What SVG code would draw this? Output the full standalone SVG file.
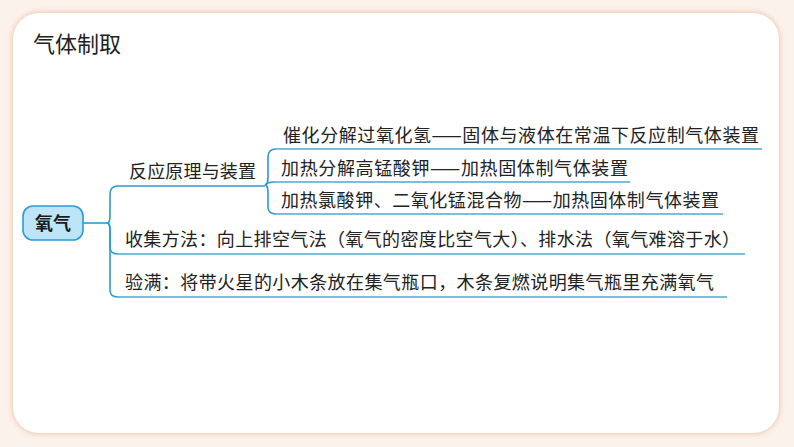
<svg xmlns="http://www.w3.org/2000/svg" width="794" height="447" viewBox="0 0 794 447">
  <style>
    text { font-family: "Noto Sans CJK SC", "Noto Sans", sans-serif; fill: #222; }
    .t { font-size: 18px; }
    .title { font-size: 22px; }
    .root { font-size: 18px; font-weight: bold; fill: #1a1a1a; }
    .conn { fill: none; stroke: #2a9cd3; stroke-width: 1.6; }
    .ul { fill: none; stroke: #4aaad0; stroke-width: 1.6; }
  </style>
  <defs>
    <filter id="sh" x="-5%" y="-5%" width="110%" height="110%">
      <feGaussianBlur in="SourceAlpha" stdDeviation="4"/>
      <feOffset dx="0" dy="0"/>
      <feComponentTransfer><feFuncA type="linear" slope="0.12"/></feComponentTransfer>
      <feFlood flood-color="#e8b89a"/>
      <feComposite operator="in" in2="SourceAlpha"/>
      <feGaussianBlur stdDeviation="3"/>
      <feMerge><feMergeNode/><feMergeNode in="SourceGraphic"/></feMerge>
    </filter>
  </defs>

  <rect x="0" y="0" width="794" height="447" fill="#fcf2ec"/>
  <rect id="card" x="13" y="13" width="766" height="420" rx="26" ry="26" fill="#ffffff" filter="url(#sh)"/>

  <text class="title" x="33" y="52">气体制取</text>

  <g id="connectors">
    <path class="conn" d="M83 223 H107"/>
    <path class="conn" d="M107 223 C110 223 110 219 110 212 V194 C110 189 112 186 118 186 H265"/>
    <path class="conn" d="M107 223 C110 223 110 227 110 234 V247 C110 251 112 254 118 254"/>
    <path class="conn" d="M107 223 C110 223 110 227 110 234 V290 C110 294 112 297 118 297"/>
    <path class="ul" d="M118 254 H745"/>
    <path class="ul" d="M118 297 H727"/>
    <path class="conn" d="M265 185 C268 185 268 180 268 175 V157 C268 152 270 149 276 149"/>
    <path class="conn" d="M265 185 Q268 182 274 182"/>
    <path class="conn" d="M265 185 C268 185 268 190 268 195 V207 C268 211 270 214 276 214"/>
    <path class="ul" d="M276 149 H762"/>
    <path class="ul" d="M274 182 H630"/>
    <path class="ul" d="M276 214 H723"/>
  </g>

  <g id="node-root">
    <rect x="23" y="206" width="60" height="34" rx="10" ry="10" fill="#bde5f7" stroke="#2a9cd3" stroke-width="1.6"/>
    <text class="root" x="53" y="230" text-anchor="middle">氧气</text>
  </g>

  <g id="node-principle">
    <text class="t" x="129" y="178" textLength="127" lengthAdjust="spacing">反应原理与装置</text>
  </g>
  <g id="node-h2o2">
    <text class="t" x="283" y="142" textLength="476" lengthAdjust="spacing">催化分解过氧化氢——固体与液体在常温下反应制气体装置</text>
  </g>
  <g id="node-kmno4">
    <text class="t" x="281" y="175" textLength="347" lengthAdjust="spacing">加热分解高锰酸钾——加热固体制气体装置</text>
  </g>
  <g id="node-kclo3">
    <text class="t" x="281" y="207" textLength="438" lengthAdjust="spacing">加热氯酸钾、二氧化锰混合物——加热固体制气体装置</text>
  </g>
  <g id="node-collect">
    <text class="t" x="125" y="246" textLength="615" lengthAdjust="spacing">收集方法：向上排空气法（氧气的密度比空气大）、排水法（氧气难溶于水）</text>
  </g>
  <g id="node-check">
    <text class="t" x="125" y="289" textLength="589" lengthAdjust="spacing">验满：将带火星的小木条放在集气瓶口，木条复燃说明集气瓶里充满氧气</text>
  </g>
</svg>
